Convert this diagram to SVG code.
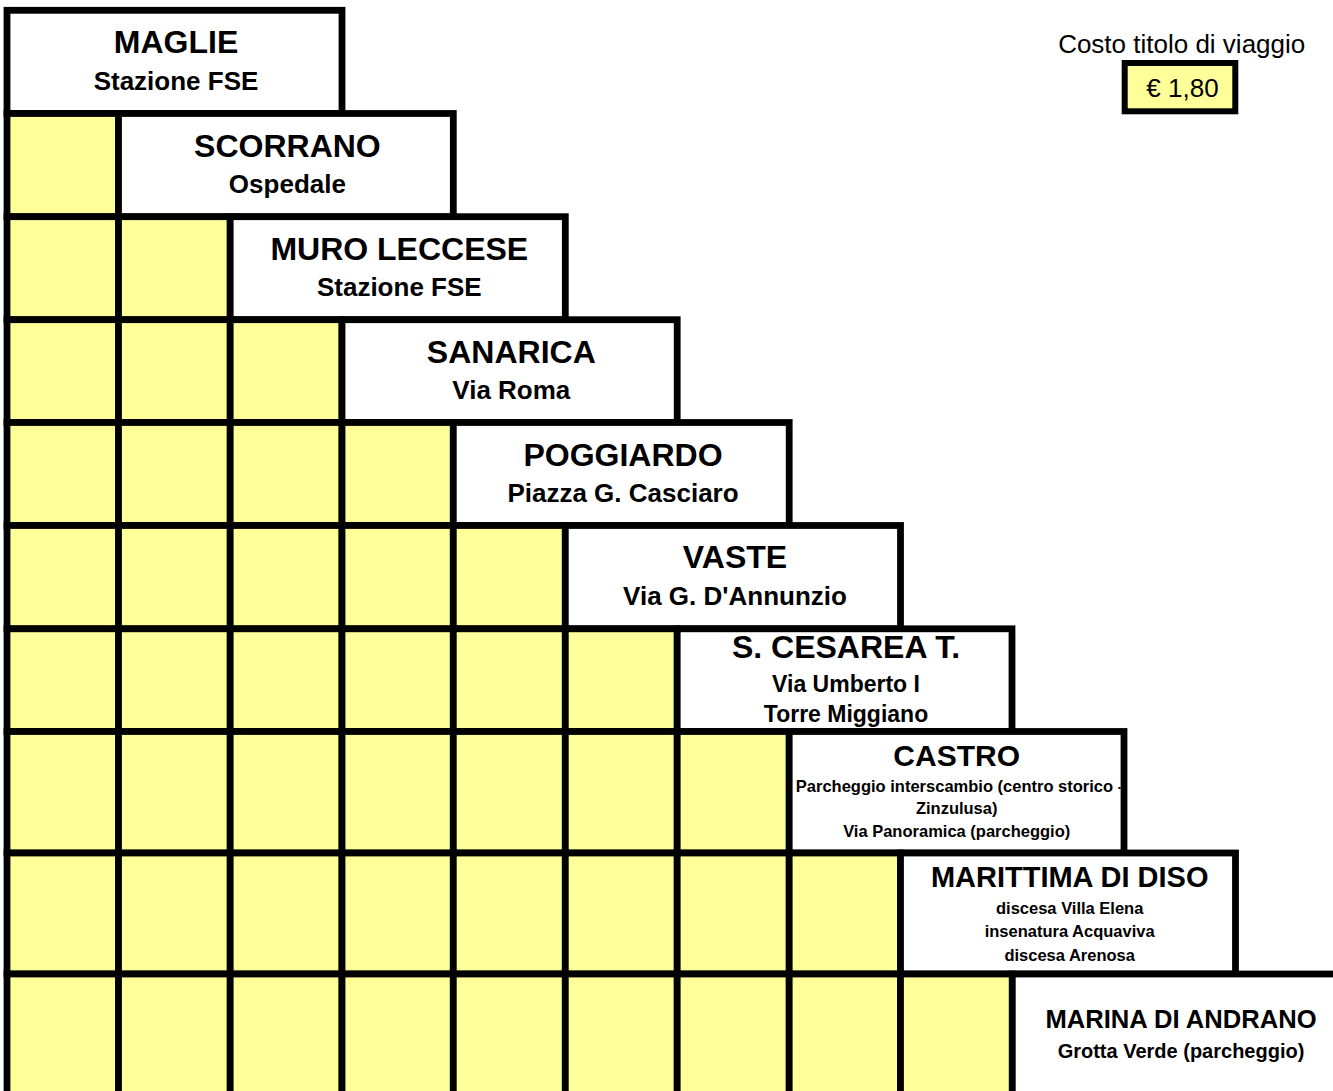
<svg xmlns="http://www.w3.org/2000/svg" width="1333" height="1091" viewBox="0 0 1333 1091">
<defs>
<style>
.y{fill:#FFFF99;stroke:#000;stroke-width:6.8}
.w{fill:#FFFFFF;stroke:#000;stroke-width:6.8}
.t{font-family:"Liberation Sans",Arial,sans-serif;font-weight:bold;text-anchor:middle;fill:#000}
.r{font-family:"Liberation Sans",Arial,sans-serif;text-anchor:middle;fill:#000}
</style>
<clipPath id="castroClip"><rect x="792.6" y="735" width="327.9" height="115"/></clipPath>
</defs>
<rect x="0" y="0" width="1333" height="1091" fill="#FFFFFF"/>

<g id="price">
<text class="r" x="1181.7" y="53" font-size="26">Costo titolo di viaggio</text>
<rect x="1124.7" y="63" width="110.6" height="48.3" fill="#FFFF99" stroke="#000" stroke-width="6"/>
<text class="r" x="1182.5" y="97.3" font-size="26">€ 1,80</text>
</g>

<g id="row-maglie">
<rect class="w" x="7" y="10.3" width="335" height="103.2"/>
<text class="t" x="176" y="53.3" font-size="32">MAGLIE</text>
<text class="t" x="176" y="90" font-size="26">Stazione FSE</text>
</g>

<g id="row-scorrano">
<rect class="y" x="7" y="113.5" width="111.5" height="103.2"/>
<rect class="w" x="118.5" y="113.5" width="334.8" height="103.2"/>
<text class="t" x="287.4" y="156.5" font-size="32">SCORRANO</text>
<text class="t" x="287.4" y="193.2" font-size="26">Ospedale</text>
</g>

<g id="row-muro-leccese">
<rect class="y" x="7" y="216.7" width="111.5" height="103"/>
<rect class="y" x="118.5" y="216.7" width="111.7" height="103"/>
<rect class="w" x="230.2" y="216.7" width="335.1" height="103"/>
<text class="t" x="399.3" y="259.7" font-size="32">MURO LECCESE</text>
<text class="t" x="399.3" y="296.4" font-size="26">Stazione FSE</text>
</g>

<g id="row-sanarica">
<rect class="y" x="7" y="319.7" width="111.5" height="102.8"/>
<rect class="y" x="118.5" y="319.7" width="111.7" height="102.8"/>
<rect class="y" x="230.2" y="319.7" width="111.8" height="102.8"/>
<rect class="w" x="342" y="319.7" width="335.2" height="102.8"/>
<text class="t" x="511.3" y="362.7" font-size="32">SANARICA</text>
<text class="t" x="511.3" y="399.4" font-size="26">Via Roma</text>
</g>

<g id="row-poggiardo">
<rect class="y" x="7" y="422.5" width="111.5" height="103"/>
<rect class="y" x="118.5" y="422.5" width="111.7" height="103"/>
<rect class="y" x="230.2" y="422.5" width="111.8" height="103"/>
<rect class="y" x="342" y="422.5" width="111.3" height="103"/>
<rect class="w" x="453.3" y="422.5" width="335.9" height="103"/>
<text class="t" x="623" y="465.5" font-size="32">POGGIARDO</text>
<text class="t" x="623" y="502.2" font-size="26">Piazza G. Casciaro</text>
</g>

<g id="row-vaste">
<rect class="y" x="7" y="525.5" width="111.5" height="103.3"/>
<rect class="y" x="118.5" y="525.5" width="111.7" height="103.3"/>
<rect class="y" x="230.2" y="525.5" width="111.8" height="103.3"/>
<rect class="y" x="342" y="525.5" width="111.3" height="103.3"/>
<rect class="y" x="453.3" y="525.5" width="112" height="103.3"/>
<rect class="w" x="565.3" y="525.5" width="335.2" height="103.3"/>
<text class="t" x="735" y="568.3" font-size="32">VASTE</text>
<text class="t" x="735" y="605" font-size="26">Via G. D'Annunzio</text>
</g>

<g id="row-santa-cesarea">
<rect class="y" x="7" y="628.8" width="111.5" height="102.7"/>
<rect class="y" x="118.5" y="628.8" width="111.7" height="102.7"/>
<rect class="y" x="230.2" y="628.8" width="111.8" height="102.7"/>
<rect class="y" x="342" y="628.8" width="111.3" height="102.7"/>
<rect class="y" x="453.3" y="628.8" width="112" height="102.7"/>
<rect class="y" x="565.3" y="628.8" width="111.9" height="102.7"/>
<rect class="w" x="677.2" y="628.8" width="334.8" height="102.7"/>
<text class="t" x="846" y="658.3" font-size="32">S. CESAREA T.</text>
<text class="t" x="846" y="691.7" font-size="23">Via Umberto I</text>
<text class="t" x="846" y="722.3" font-size="23">Torre Miggiano</text>
</g>

<g id="row-castro">
<rect class="y" x="7" y="731.5" width="111.5" height="121.5"/>
<rect class="y" x="118.5" y="731.5" width="111.7" height="121.5"/>
<rect class="y" x="230.2" y="731.5" width="111.8" height="121.5"/>
<rect class="y" x="342" y="731.5" width="111.3" height="121.5"/>
<rect class="y" x="453.3" y="731.5" width="112" height="121.5"/>
<rect class="y" x="565.3" y="731.5" width="111.9" height="121.5"/>
<rect class="y" x="677.2" y="731.5" width="112" height="121.5"/>
<rect class="w" x="789.2" y="731.5" width="334.8" height="121.5"/>
<text class="t" x="956.7" y="765.5" font-size="30">CASTRO</text>
<text class="t" x="959.5" y="791.6" font-size="16.5" clip-path="url(#castroClip)">Parcheggio interscambio (centro storico -</text>
<text class="t" x="956.7" y="814.2" font-size="16.5">Zinzulusa)</text>
<text class="t" x="956.7" y="836.8" font-size="16.5">Via Panoramica (parcheggio)</text>
</g>

<g id="row-marittima-di-diso">
<rect class="y" x="7" y="853" width="111.5" height="121"/>
<rect class="y" x="118.5" y="853" width="111.7" height="121"/>
<rect class="y" x="230.2" y="853" width="111.8" height="121"/>
<rect class="y" x="342" y="853" width="111.3" height="121"/>
<rect class="y" x="453.3" y="853" width="112" height="121"/>
<rect class="y" x="565.3" y="853" width="111.9" height="121"/>
<rect class="y" x="677.2" y="853" width="112" height="121"/>
<rect class="y" x="789.2" y="853" width="111.3" height="121"/>
<rect class="w" x="900.5" y="853" width="335" height="121"/>
<text class="t" x="1069.7" y="886.7" font-size="29">MARITTIMA DI DISO</text>
<text class="t" x="1069.7" y="914" font-size="16.5">discesa Villa Elena</text>
<text class="t" x="1069.7" y="937.3" font-size="16.5">insenatura Acquaviva</text>
<text class="t" x="1069.7" y="960.7" font-size="16.5">discesa Arenosa</text>
</g>

<g id="row-marina-di-andrano">
<rect class="y" x="7" y="974" width="111.5" height="126"/>
<rect class="y" x="118.5" y="974" width="111.7" height="126"/>
<rect class="y" x="230.2" y="974" width="111.8" height="126"/>
<rect class="y" x="342" y="974" width="111.3" height="126"/>
<rect class="y" x="453.3" y="974" width="112" height="126"/>
<rect class="y" x="565.3" y="974" width="111.9" height="126"/>
<rect class="y" x="677.2" y="974" width="112" height="126"/>
<rect class="y" x="789.2" y="974" width="111.3" height="126"/>
<rect class="y" x="900.5" y="974" width="111.8" height="126"/>
<rect class="w" x="1012.3" y="974" width="330" height="126"/>
<text class="t" x="1181" y="1028.3" font-size="25.6">MARINA DI ANDRANO</text>
<text class="t" x="1181" y="1058.3" font-size="20">Grotta Verde (parcheggio)</text>
</g>

<g id="connectors"></g>
</svg>
